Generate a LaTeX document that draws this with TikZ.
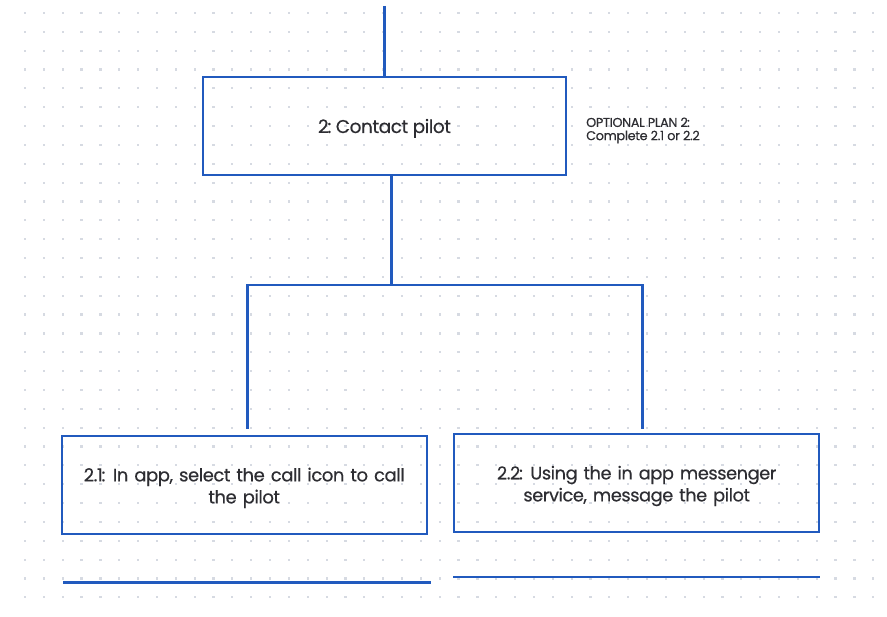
\documentclass[tikz,border=0pt]{standalone}
\usepackage{fontspec}
\setmainfont{Poppins}
\newfontfamily\tightfont[LetterSpace=-2.5,FakeBold=0.35]{Poppins}
\newcommand{\tcolon}{\kern-1.2pt:\kern-1.5pt}
\definecolor{lineblue}{RGB}{33,90,190}
\definecolor{dotgray}{RGB}{214,218,226}
\definecolor{txt}{RGB}{45,45,50}
\tikzset{
  conn/.style={draw=lineblue, line width=2.6pt, line cap=butt},
  taskbox/.style={draw=lineblue, line width=2.4pt, rectangle, inner sep=0pt, text=txt, align=center},
}
\begin{document}
\begin{tikzpicture}[x=1pt,y=-1pt]
\useasboundingbox (0,0) rectangle (887,617);
\fill[white] (0,0) rectangle (887,617);
% dot grid
\foreach \i in {0,...,45}{
  \foreach \j in {0,...,31}{
    \fill[dotgray] ({25+18.85*\i-1.1},{13+18.85*\j-1.1}) rectangle ++(2.2,2.2);
  }
}
% boxes
\node[taskbox, minimum width=363pt, minimum height=98pt, text height=18pt, text depth=4pt, font=\tightfont\fontsize{18.5}{22}\selectfont] (b2) at (384.5,126) {2\tcolon{} Contact pilot};
\node[taskbox, minimum width=365pt, minimum height=98pt, text width=360pt, font=\tightfont\fontsize{18}{22}\selectfont] (b21) at (244.2,485.2) {\rule{0pt}{19pt}2.1\tcolon{} In app, select the call icon to call\\the pilot};
\node[taskbox, minimum width=365pt, minimum height=98pt, text width=360pt, font=\tightfont\fontsize{17.8}{22}\selectfont] (b22) at (636.7,482.8) {\rule{0pt}{20pt}2.2\tcolon{} Using the in app messenger\\service, message the pilot};
\node[anchor=west, text=txt, align=left, inner sep=0pt, font=\tightfont\fontsize{12.8}{13.2}\selectfont] (note) at (586,130.5) {OPTIONAL PLAN 2\kern-0.8pt:\\Complete 2.1 or 2.2};
% connectors
\coordinate (top) at (384.3,6);
\coordinate (j) at (391.7,285);
\coordinate (jL) at (247.3,285);
\coordinate (jR) at (642.3,285);
\coordinate (eL) at (247.3,429);
\coordinate (eR) at (642.3,429);
\draw[conn] (top) -- (top |- b2.north);
\draw[conn] (b2.south -| j) -- (j);
\draw[conn, line join=miter] (eL) -- (jL) -- (jR) -- (eR);
% underlines
\coordinate (uL1) at (63,582.5);
\coordinate (uL2) at (431,582.5);
\coordinate (uR1) at (453,577);
\coordinate (uR2) at (820,577);
\draw[conn] (uL1) -- (uL2);
\draw[conn] (uR1) -- (uR2);
\end{tikzpicture}
\end{document}
